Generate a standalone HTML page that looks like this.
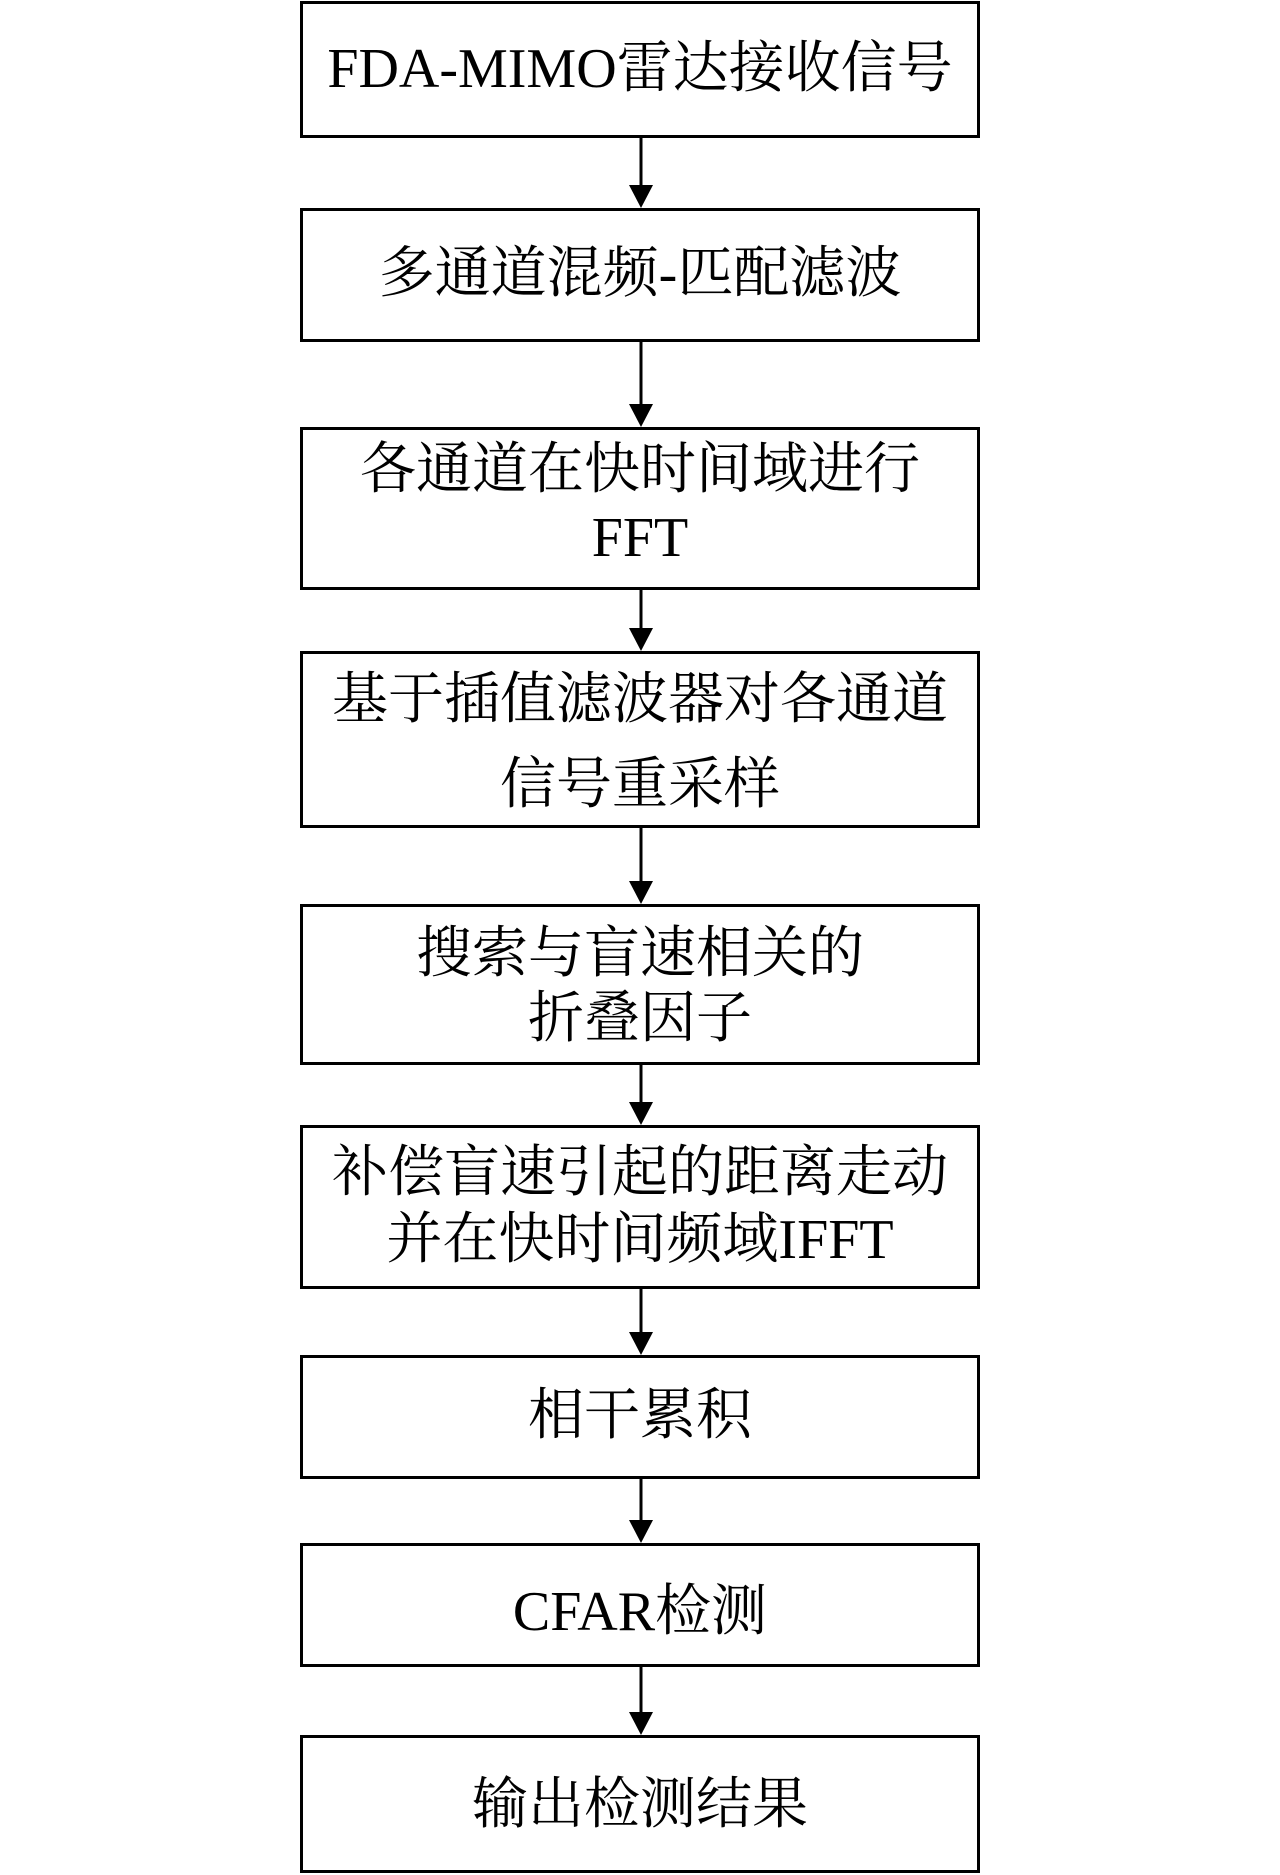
<!DOCTYPE html>
<html><head><meta charset="utf-8"><style>
html,body{margin:0;padding:0;background:#fff;}
body{width:1280px;height:1875px;position:relative;overflow:hidden;}
.b{position:absolute;left:300px;width:680px;border:3px solid #000;box-sizing:border-box;}
.t{position:absolute;left:300px;width:680px;text-align:center;font-family:"Liberation Serif","Noto Serif CJK SC",serif;font-size:56px;line-height:70px;height:70px;color:#000;white-space:nowrap;}
</style></head><body>
<div class="b" style="top:1px;height:137px"></div>
<div class="b" style="top:208px;height:134px"></div>
<div class="b" style="top:427px;height:163px"></div>
<div class="b" style="top:651px;height:177px"></div>
<div class="b" style="top:904px;height:161px"></div>
<div class="b" style="top:1125px;height:164px"></div>
<div class="b" style="top:1355px;height:124px"></div>
<div class="b" style="top:1543px;height:124px"></div>
<div class="b" style="top:1735px;height:138px"></div>

<div class="t" style="top:34px">FDA-MIMO雷达接收信号</div>
<div class="t" style="top:239px">多通道混频-匹配滤波</div>
<div class="t" style="top:435px">各通道在快时间域进行</div>
<div class="t" style="top:503px">FFT</div>
<div class="t" style="top:665px">基于插值滤波器对各通道</div>
<div class="t" style="top:750px">信号重采样</div>
<div class="t" style="top:919px">搜索与盲速相关的</div>
<div class="t" style="top:984px">折叠因子</div>
<div class="t" style="top:1138px">补偿盲速引起的距离走动</div>
<div class="t" style="top:1205px">并在快时间频域IFFT</div>
<div class="t" style="top:1381px">相干累积</div>
<div class="t" style="top:1577px">CFAR检测</div>
<div class="t" style="top:1770px">输出检测结果</div>

<svg width="1280" height="1875" style="position:absolute;left:0;top:0" xmlns="http://www.w3.org/2000/svg">
<g stroke="#000" stroke-width="3">
<line x1="641" y1="138" x2="641" y2="190"/>
<line x1="641" y1="342" x2="641" y2="409"/>
<line x1="641" y1="590" x2="641" y2="633"/>
<line x1="641" y1="828" x2="641" y2="886"/>
<line x1="641" y1="1065" x2="641" y2="1107"/>
<line x1="641" y1="1289" x2="641" y2="1337"/>
<line x1="641" y1="1479" x2="641" y2="1525"/>
<line x1="641" y1="1667" x2="641" y2="1717"/>
</g>
<g fill="#000">
<polygon points="629,185 653,185 641,208"/>
<polygon points="629,404 653,404 641,427"/>
<polygon points="629,628 653,628 641,651"/>
<polygon points="629,881 653,881 641,904"/>
<polygon points="629,1102 653,1102 641,1125"/>
<polygon points="629,1332 653,1332 641,1355"/>
<polygon points="629,1520 653,1520 641,1543"/>
<polygon points="629,1712 653,1712 641,1735"/>
</g>
</svg>
</body></html>
